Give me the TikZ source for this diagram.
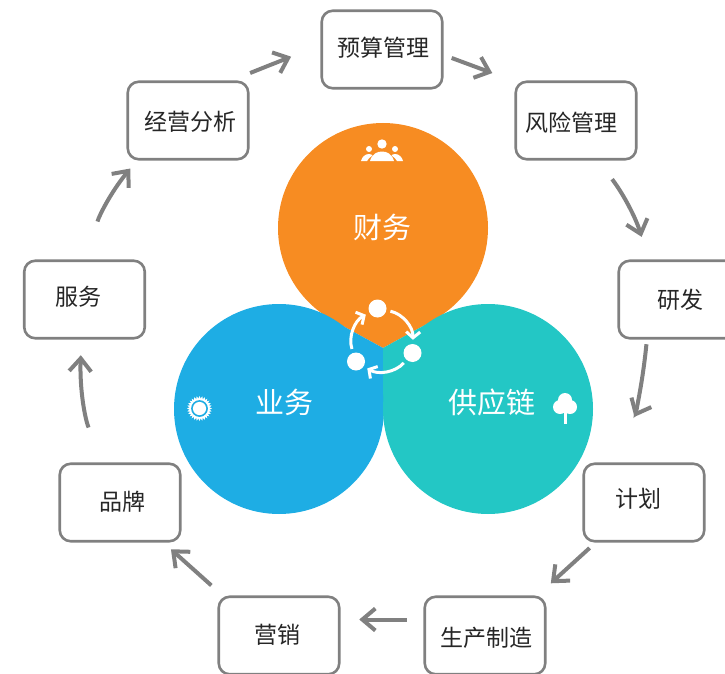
\documentclass[tikz,border=0pt]{standalone}
\usepackage{fontspec}
\usepackage{xcolor}
\setmainfont{Noto Sans CJK SC}
\usetikzlibrary{arrows.meta,shapes.geometric}
\definecolor{zoneorange}{HTML}{F78C22}
\definecolor{zoneblue}{HTML}{1EADE4}
\definecolor{zoneteal}{HTML}{23C7C5}
\definecolor{flowgrey}{HTML}{808080}
\tikzset{
    stepbox/.style={draw=flowgrey, line width=2.6pt, rounded corners=11pt, minimum width=120pt, minimum height=77pt, inner sep=0pt, outer sep=0pt, fill=white},
    steplabel/.style={font=\fontsize{23}{23}\selectfont, text=black!85, inner sep=0pt},
    zone/.style={circle, minimum size=210pt, inner sep=0pt},
    zonelabel/.style={font=\fontsize{29}{29}\selectfont, text=white, inner sep=0pt},
    flow/.style={draw=flowgrey, line width=4pt, -{Straight Barb[length=13pt,width=22pt,line width=4pt]}},
    dot/.style={circle, fill=white, minimum size=18pt, inner sep=0pt},
    cycle/.style={draw=white, line width=3pt, -{Straight Barb[length=6pt,width=14pt,line width=3pt]}}
}
\begin{document}
\begin{tikzpicture}[x=1pt, y=-1pt]
    \useasboundingbox (0,0) rectangle (725,674);
    % the three zones
    \coordinate (meet) at (383,348);
    \coordinate (left tip) at (332,320);
    \coordinate (right tip) at (434,320);
    \coordinate (low tip) at (383,409);
    \fill[zoneorange] (meet) -- (left tip) -- (383,228) -- (right tip) -- cycle;
    \fill[zoneblue] (meet) -- (left tip) -- (279,409) -- (low tip) -- cycle;
    \fill[zoneteal] (meet) -- (right tip) -- (488,409) -- (low tip) -- cycle;
    \node[zone, fill=zoneorange, label={[zonelabel, xshift=-1pt, yshift=1pt]center:财务}] (caiwu) at (383,228) {};
    \node[zone, fill=zoneblue, label={[zonelabel, xshift=5pt, yshift=7pt]center:业务}] (yewu) at (279,409) {};
    \node[zone, fill=zoneteal, label={[zonelabel, xshift=4pt, yshift=7pt]center:供应链}] (gongying) at (488,409) {};
    % steps round the outside
    \node[stepbox, minimum width=120.5pt, minimum height=77.5pt, label={[steplabel, xshift=1pt, yshift=2pt]center:预算管理}] (yusuan) at (382,49.5) {};
    \node[stepbox, minimum width=120.5pt, minimum height=77.5pt, label={[steplabel, xshift=-5pt, yshift=-2pt]center:风险管理}] (fengxian) at (576,120.5) {};
    \node[stepbox, minimum width=120.5pt, minimum height=77.5pt, label={[steplabel, xshift=1pt]center:研发}] (yanfa) at (679,299.5) {};
    \node[stepbox, minimum width=120.5pt, minimum height=77.5pt, label={[steplabel, xshift=-6pt, yshift=4pt]center:计划}] (jihua) at (644,502.5) {};
    \node[stepbox, minimum width=120.5pt, minimum height=77.5pt, label={[steplabel, xshift=1pt, yshift=-2pt]center:生产制造}] (shengchan) at (485,635.5) {};
    \node[stepbox, minimum width=120.5pt, minimum height=77.5pt, label={[steplabel, xshift=-2pt, yshift=1pt]center:营销}] (yingxiao) at (279,635.5) {};
    \node[stepbox, minimum width=120.5pt, minimum height=77.5pt, label={[steplabel, xshift=2pt, yshift=1pt]center:品牌}] (pinpai) at (120,502.5) {};
    \node[stepbox, minimum width=120.5pt, minimum height=77.5pt, label={[steplabel, xshift=-6pt, yshift=3pt]center:服务}] (fuwu) at (84.5,299.5) {};
    \node[stepbox, minimum width=120.5pt, minimum height=77.5pt, label={[steplabel, xshift=2pt, yshift=-1pt]center:经营分析}] (jingying) at (188,120.5) {};
    % flow between the steps
    \draw[flow, shorten <=2pt, shorten >=33pt] ([yshift=8pt]jingying.north east) -- ([yshift=5pt]yusuan.west);
    \draw[flow, shorten <=10pt, shorten >=25pt] ([yshift=-5pt]yusuan.east) -- (fengxian.north west);
    \draw[flow, shorten <=25pt, shorten >=25pt] ([xshift=21pt]fengxian.south) to[bend left=10] ([xshift=-30pt]yanfa.north);
    \draw[flow, shorten <=6pt, shorten >=52pt] ([xshift=-32pt]yanfa.south) to[bend left=10] ([xshift=-32pt]jihua.north);
    \draw[flow, shorten <=10pt, shorten >=20pt] ([xshift=-47pt]jihua.south) -- ([xshift=51pt]shengchan.north);
    \draw[flow, shorten <=18pt, shorten >=20pt] ([yshift=16pt]shengchan.west) -- ([yshift=16pt]yingxiao.east);
    \draw[flow, shorten <=17pt, shorten >=12pt] ([xshift=-55pt]yingxiao.north) -- ([xshift=42pt]pinpai.south);
    \draw[flow, shorten <=39pt, shorten >=17pt] ([xshift=-17pt]pinpai.north) to[bend left=12] ([xshift=-3pt]fuwu.south);
    \draw[flow, shorten <=40pt, shorten >=12pt] ([xshift=5pt]fuwu.north) to[bend left=14] ([xshift=-50pt]jingying.south);
    % cycle in the middle
    \node[dot] (dota) at (377.5,308.5) {};
    \node[dot] (dotb) at (412.5,353) {};
    \node[dot] (dotc) at (356,361.5) {};
    \draw[cycle, shorten <=4pt, shorten >=4pt] (dota) to[bend left=40] (dotb);
    \draw[cycle, shorten <=4pt, shorten >=4pt] (dotb) to[bend left=40] (dotc);
    \draw[cycle, shorten <=4pt, shorten >=4pt] (dotc) to[bend left=40] (dota);
    % people icon
    \fill[white] (382,144) circle (4.7pt);
    \fill[white] (369,149) circle (3pt);
    \fill[white] (395,149) circle (3pt);
    \fill[white] (370,161) .. controls (372,154) and (377,151.5) .. (382,151.5) .. controls (387,151.5) and (392,154) .. (394,161) -- cycle;
    \fill[white] (361,161) .. controls (362,157) and (365,154) .. (369,154) .. controls (371,154) and (372,155) .. (372.5,155.5) .. controls (370,157) and (368,159) .. (367,161) -- cycle;
    \fill[white] (403,161) .. controls (402,157) and (399,154) .. (395,154) .. controls (393,154) and (392,155) .. (391.5,155.5) .. controls (394,157) and (396,159) .. (397,161) -- cycle;
    % sun icon
    \node[star, star points=28, star point ratio=1.25, fill=white, minimum size=25pt, inner sep=0pt] (sun) at (199.5,408.5) {};
    \fill[zoneblue] (sun.center) circle (8.4pt);
    \fill[white] (sun.center) circle (6.6pt);
    % tree icon
    \fill[white] (565,400) circle (7pt);
    \fill[white] (560,407) circle (7pt);
    \fill[white] (570,407) circle (7pt);
    \fill[white] (563.5,410) rectangle (566.5,424);
\end{tikzpicture}
\end{document}
